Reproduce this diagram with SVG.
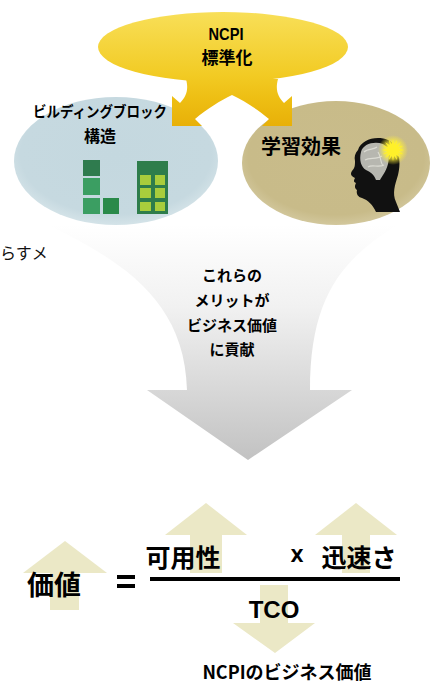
<svg xmlns="http://www.w3.org/2000/svg" width="437" height="684" viewBox="0 0 437 684">
  <style>
    .jp { font-family: "Noto Sans CJK JP", "Liberation Sans", sans-serif; font-weight: 700; fill: #000; }
    .lat { font-family: "Liberation Sans", "Noto Sans CJK JP", sans-serif; font-weight: 700; fill: #000; }
    .plain { font-family: "Noto Sans CJK JP", sans-serif; font-weight: 400; fill: #111; }
    .pale { fill: #ebe8c6; }
  </style>
  <defs>
    <linearGradient id="gold" x1="0" y1="12" x2="0" y2="126" gradientUnits="userSpaceOnUse">
      <stop offset="0" stop-color="#f8df58"/>
      <stop offset="0.55" stop-color="#f2cb24"/>
      <stop offset="0.75" stop-color="#eebf14"/>
      <stop offset="1" stop-color="#e8b008"/>
    </linearGradient>
    <linearGradient id="funnelFill" x1="0" y1="225" x2="0" y2="460" gradientUnits="userSpaceOnUse">
      <stop offset="0" stop-color="#ffffff"/>
      <stop offset="0.35" stop-color="#f1f1f1"/>
      <stop offset="1" stop-color="#c2c2c2"/>
    </linearGradient>
    <radialGradient id="blueFill" cx="0.5" cy="0.45" r="0.55">
      <stop offset="0" stop-color="#c4d8df"/>
      <stop offset="0.85" stop-color="#c6d9e0"/>
      <stop offset="1" stop-color="#d4e3e8"/>
    </radialGradient>
    <radialGradient id="khakiFill" cx="0.5" cy="0.45" r="0.55">
      <stop offset="0" stop-color="#c9bc8b"/>
      <stop offset="0.85" stop-color="#c8bb89"/>
      <stop offset="1" stop-color="#d2c79c"/>
    </radialGradient>
    <radialGradient id="glow" cx="0.5" cy="0.5" r="0.5">
      <stop offset="0" stop-color="#fff87a"/>
      <stop offset="0.6" stop-color="#ffef3a" stop-opacity="0.7"/>
      <stop offset="1" stop-color="#ffef3a" stop-opacity="0"/>
    </radialGradient>
  </defs>

  <rect width="437" height="684" fill="#ffffff"/>

  <!-- funnel arrow leading from the benefits down to the formula -->
  <g id="funnel">
    <path d="M 50,226 L 396,226 C 340,260 310,300 310,390 L 352,390 L 248,460 L 147,390 L 187,390 C 185,300 120,260 50,226 Z" fill="url(#funnelFill)"/>
    <text class="jp" font-size="15" text-anchor="middle" x="232" y="281">これらの</text>
    <text class="jp" font-size="15" text-anchor="middle" x="232" y="306">メリットが</text>
    <text class="jp" font-size="15" text-anchor="middle" x="232" y="331">ビジネス価値</text>
    <text class="jp" font-size="15" text-anchor="middle" x="232" y="355">に貢献</text>
  </g>

  <!-- clipped caption at the left edge -->
  <text class="plain" font-size="16" x="0" y="259">らすメ</text>

  <!-- building block structure -->
  <g id="building-block">
    <ellipse cx="116" cy="161" rx="102" ry="64" fill="url(#blueFill)"/>
    <text class="jp" font-size="15" x="100" y="117" text-anchor="middle" textLength="134" lengthAdjust="spacingAndGlyphs">ビルディングブロック</text>
    <text class="jp" font-size="16" x="100" y="142" text-anchor="middle">構造</text>
    <rect x="83" y="160" width="17" height="16" fill="#2f7b4e"/>
    <rect x="83" y="178" width="17" height="17" fill="#3b9e62"/>
    <rect x="83" y="198" width="17" height="16" fill="#3b9e62"/>
    <rect x="103" y="198" width="16" height="16" fill="#2a8a4a"/>
    <rect x="137" y="161" width="31" height="53" fill="#2e7d4b"/>
    <g fill="#a9cd3c">
      <rect x="140" y="175" width="11" height="10"/>
      <rect x="155" y="175" width="10" height="10"/>
      <rect x="140" y="188" width="11" height="10"/>
      <rect x="155" y="188" width="10" height="10"/>
      <rect x="140" y="202" width="11" height="9"/>
      <rect x="155" y="202" width="10" height="9"/>
    </g>
  </g>

  <!-- learning effect -->
  <g id="learning">
    <ellipse cx="336" cy="163" rx="94" ry="62" fill="url(#khakiFill)"/>
    <text class="jp" font-size="20" x="301" y="154" text-anchor="middle">学習効果</text>
    <path d="M 358,150 C 361,140 376,135 388,140 C 398,145 402,160 398,175 C 395,185 392,193 396,202 L 400,212 L 376,212 C 373,205 368,200 362,198 C 358,197 356,194 357,190 C 354,188 355,185 356,183 C 353,182 354,180 355,178 C 351,176 350,174 352,171 C 355,168 355,165 355,161 C 354,157 355,153 358,150 Z" fill="#111"/>
    <path d="M 361,152 C 363,144 374,141 383,144 C 389,147 390,156 388,164 C 386,172 382,176 380,180 L 376,180 C 374,174 370,172 366,170 C 361,167 359,160 361,152 Z" fill="#b7b7b0"/>
    <path d="M 364,152 C 368,148 374,150 377,147 M 365,160 C 370,157 376,160 382,156 M 368,167 C 372,164 378,168 384,165 M 378,152 C 381,156 380,162 383,166" stroke="#dcdcd4" stroke-width="1.2" fill="none"/>
    <circle cx="393" cy="150" r="15" fill="url(#glow)"/>
    <polygon fill="#fff02a" points="404,150 398.9,151.2 403.2,154.2 398,153.3 400.8,157.8 396.3,155 397.2,160.2 394.2,155.9 393,161 391.8,155.9 388.8,160.2 389.7,155 385.2,157.8 388,153.3 382.8,154.2 387.1,151.2 382,150 387.1,148.8 382.8,145.8 388,146.7 385.2,142.2 389.7,145 388.8,139.8 391.8,144.1 393,139 394.2,144.1 397.2,139.8 396.3,145 400.8,142.2 398,146.7 403.2,145.8 398.9,148.8"/>
  </g>

  <!-- the two curved arrows branching from the standardisation source -->
  <g id="connectors">
    <path fill="url(#gold)" d="M 186,79 C 189,90 186,97 180,103 L 172,96 L 172,126 L 202,126 L 195,119 C 208,108 220,101 232,95 C 244,101 256,108 269,119 L 262,126 L 292,126 L 292,96 L 284,103 C 278,97 275,90 278,79 Z"/>
  </g>
  <g id="ncpi">
    <ellipse cx="223" cy="47" rx="125" ry="35" fill="url(#gold)"/>
    <text class="lat" font-size="17" x="226" y="40" text-anchor="middle" textLength="35" lengthAdjust="spacingAndGlyphs">NCPI</text>
    <text class="jp" font-size="17" x="227" y="64" text-anchor="middle">標準化</text>
  </g>

  <!-- value formula -->
  <g id="formula">
    <path class="pale" d="M 65,541 L 107,573 L 79,573 L 79,610 L 50,610 L 50,573 L 23,573 Z"/>
    <path class="pale" d="M 206,503 L 247,535 L 222,535 L 222,573 L 190,573 L 190,535 L 165,535 Z"/>
    <path class="pale" d="M 356,503 L 397,535 L 370,535 L 370,573 L 342,573 L 342,535 L 315,535 Z"/>
    <path class="pale" d="M 260,585 L 288,585 L 288,623 L 315,623 L 275,653 L 233,623 L 260,623 Z"/>
    <text class="jp" font-size="27" x="54" y="595" text-anchor="middle">価値</text>
    <rect x="117" y="575" width="18" height="4" fill="#000"/>
    <rect x="117" y="584" width="18" height="4" fill="#000"/>
    <text class="jp" font-size="25" x="183" y="567" text-anchor="middle">可用性</text>
    <text font-family="'DejaVu Sans', sans-serif" font-weight="700" font-size="17" x="297" y="562" text-anchor="middle">X</text>
    <text class="jp" font-size="25" x="359" y="567" text-anchor="middle">迅速さ</text>
    <rect x="150" y="577" width="250" height="4" fill="#000"/>
    <text class="lat" font-size="24" x="274" y="618" text-anchor="middle">TCO</text>
    <text class="jp" font-size="18" x="287" y="679" text-anchor="middle">NCPIのビジネス価値</text>
  </g>
</svg>
